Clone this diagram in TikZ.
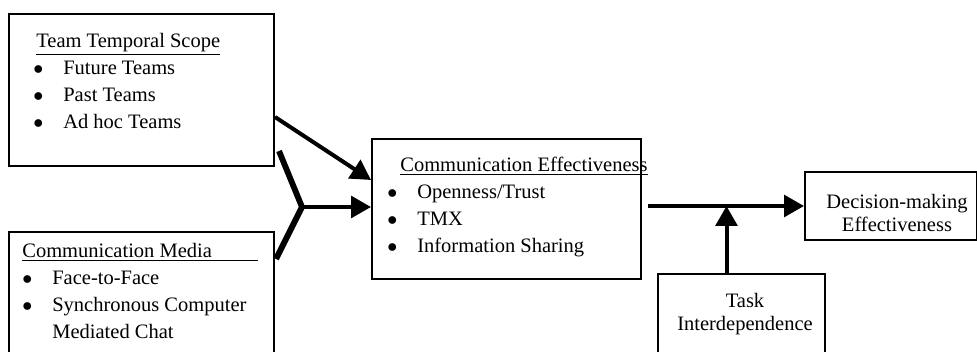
\documentclass[tikz,border=0pt]{standalone}
\usepackage{fontspec}
\setmainfont{Liberation Serif}
\usetikzlibrary{positioning}
\usetikzlibrary{calc}
\usetikzlibrary{arrows.meta}
\newcommand{\itm}[1]{\makebox[18pt][l]{\raisebox{0.3pt}{$\bullet$}}#1}

\begin{document}
\begin{tikzpicture}
			[
				x = 0.6pt, y = -0.6pt,
				box/.style = {rectangle, draw = black, line width = 1.2pt, inner sep = 0pt},
				lines/.style = {anchor = north west, inner sep = 0pt, align = left, font = \fontsize{12.3}{16.2}\selectfont},
				centred/.style = {inner sep = 0pt, align = center, font = \fontsize{12.3}{13.8}\selectfont},
				flow/.style = {line width = 2.4pt, -{Triangle[length = 12pt, width = 13pt]}},
				prong/.style = {line width = 3.5pt},
			]
			\useasboundingbox (0,0) rectangle (977,352);
			% boxes
			\node (temporal) [box, minimum width = 159pt, minimum height = 91.2pt] at (141.5,90) {};
			\node (media) [box, minimum width = 159pt, minimum height = 75.6pt] at (141.5,295) {};
			\node (effect) [box, minimum width = 161.4pt, minimum height = 84pt] at (506.5,209) {};
			\node (decision) [box, minimum width = 103.2pt, minimum height = 40.8pt] at (891,206) {};
			\node (task) [box, minimum width = 100.2pt, minimum height = 51.6pt] at (741.5,317) {};
			% texts
			\node (temporaltext) [lines] at (33,33) {\hspace*{1.8pt}\underline{Team Temporal Scope}\\ \itm{Future Teams}\\ \itm{Past Teams}\\ \itm{Ad hoc Teams}};
			\node (mediatext) [lines] at (22,243) {\underline{\makebox[141.6pt][l]{Communication Media}}\\ \itm{Face-to-Face}\\ \itm{Synchronous Computer}\\ \hspace*{18pt}Mediated Chat};
			\node (effecttext) [lines] at (387,157) {\hspace*{7.8pt}\underline{Communication Effectiveness}\\ \itm{Openness/Trust}\\ \itm{TMX}\\ \itm{Information Sharing}};
			\node (decisiontext) [centred] at (897,213) {Decision-making\\ Effectiveness};
			\node (tasktext) [centred] at (745,314) {Task\\ Interdependence};
			% connectors
			\coordinate (meet) at (302,207);
			\coordinate (join) at ($(task.north |- decision.west) + (-15,0)$);
			\draw [flow] ([yshift = -16.2pt]temporal.east) -- ([yshift = 17.4pt]effect.west);
			\draw [prong] ([shift = {(4,-16)}]temporal.south east) -- (meet) -- ([shift = {(1,28)}]media.north east);
			\draw [flow] (meet) -- (meet -| effect.west);
			\draw [flow] ($(effect.east |- decision.west) + (6,0)$) -- (decision.west);
			\draw [flow] ($(task.north) + (-15,0)$) -- (join);
		\end{tikzpicture}
\end{document}
